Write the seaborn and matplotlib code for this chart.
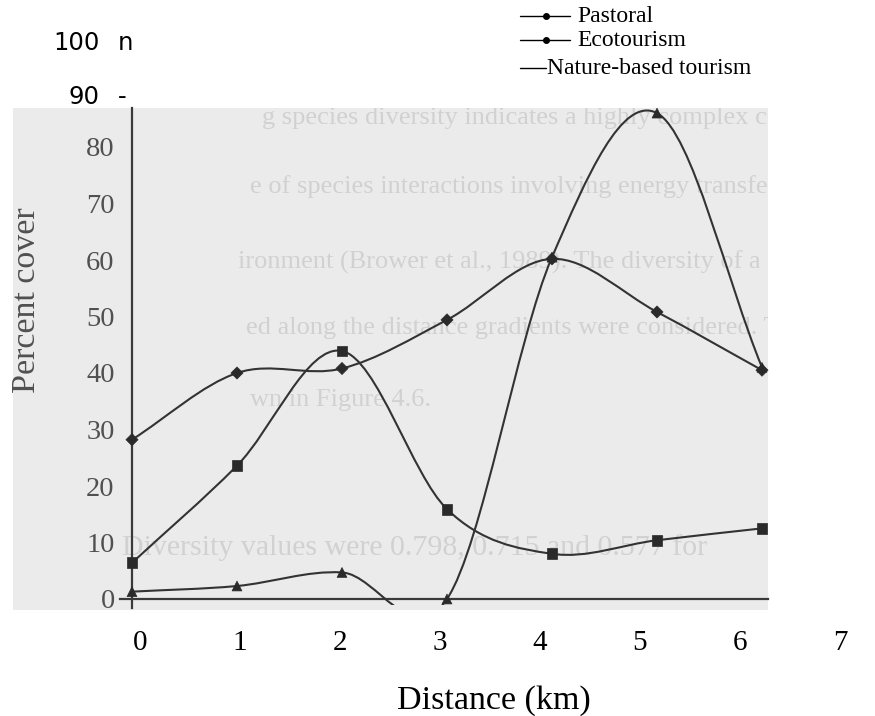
import numpy as np
import pandas as pd
import seaborn as sns
import matplotlib
matplotlib.use("Agg")
import matplotlib.pyplot as plt
from matplotlib.path import Path
from matplotlib.patches import PathPatch, Rectangle
from matplotlib.lines import Line2D

# ---------------- data ----------------
distance = [0, 1, 2, 3, 4, 5, 6]
pastoral = [28.2, 40.0, 40.8, 49.4, 60.2, 50.8, 40.5]
ecotourism = [6.4, 23.6, 43.9, 15.9, 8.0, 10.4, 12.5]
nature_based = [1.3, 2.3, 4.7, 0.0, 60.5, 86.0, 41.0]
series_names = ["Pastoral", "Ecotourism", "Nature-based tourism"]
y_ticks = [0, 10, 20, 30, 40, 50, 60, 70, 80]
x_ticks = [0, 1, 2, 3, 4, 5, 6, 7]

df = pd.DataFrame({
    "distance": distance * 3,
    "cover": pastoral + ecotourism + nature_based,
    "series": [s for s in series_names for _ in distance],
})

sns.set_style("white")
plt.rcParams["font.family"] = ["Liberation Serif", "DejaVu Serif"]

W, H = 875, 716
fig = plt.figure(figsize=(W / 100, H / 100), dpi=100)
fig.patch.set_facecolor("white")

def fx(px):
    return px / W

def fy(py):
    return 1 - py / H

# geometry (pixels)
X0PX, XUNIT = 132.0, 105.0
Y0PX, YUNIT = 599.0, 5.65
GL, GR, GT, GB = 13, 768, 108, 610
AXB = 605  # clipping edge of the plotting area

ax = fig.add_axes([fx(GL), fy(AXB), fx(W - GL), (AXB - GT) / H])
ax.patch.set_alpha(0)
ax.set_xlim((GL - X0PX) / XUNIT, (W - X0PX) / XUNIT)
ax.set_ylim((Y0PX - AXB) / YUNIT, (Y0PX - GT) / YUNIT)

# scanned grey page background
bg = Rectangle((fx(GL), fy(GB)), (GR - GL) / W, (GB - GT) / H,
               transform=fig.transFigure, facecolor="#ebebeb",
               edgecolor="none", zorder=-5)
fig.add_artist(bg)

# faint bleed-through text of the scanned page
ghost = [
    (262, 118, "g species diversity indicates a highly complex c", 19),
    (250, 187, "e of species interactions involving energy transfe", 19),
    (238, 262, "ironment (Brower et al., 1989). The diversity of a", 19),
    (246, 328, "ed along the distance gradients were considered. Th", 19),
    (250, 400, "wn in Figure 4.6.", 19),
    (122, 548, "Diversity values were 0.798, 0.715 and 0.577 for", 21.5),
]
for gx, gy, gt, gs in ghost:
    t = fig.text(fx(gx), fy(gy), gt, fontsize=gs, color="#d1d1d1",
                 ha="left", va="center", zorder=-4)
    t.set_clip_path(bg)

line_color = "#333333"

def smooth_path(xs, ys):
    xs = np.asarray(xs, float)
    ys = np.asarray(ys, float)
    n = len(xs)
    verts = [(xs[0], ys[0])]
    codes = [Path.MOVETO]
    for i in range(n - 1):
        a = i - 1 if i > 0 else i
        b = i + 2 if i + 2 < n else i + 1
        m1 = (ys[i + 1] - ys[a]) / (xs[i + 1] - xs[a])
        m2 = (ys[b] - ys[i]) / (xs[b] - xs[i])
        h = xs[i + 1] - xs[i]
        verts += [(xs[i] + h / 3, ys[i] + m1 * h / 3),
                  (xs[i + 1] - h / 3, ys[i + 1] - m2 * h / 3),
                  (xs[i + 1], ys[i + 1])]
        codes += [Path.CURVE4] * 3
    return Path(verts, codes)

for name in series_names:
    sub = df[df["series"] == name]
    patch = PathPatch(smooth_path(sub["distance"], sub["cover"]),
                      facecolor="none", edgecolor=line_color, lw=1.5,
                      transform=ax.transData, zorder=3)
    ax.add_patch(patch)

sns.scatterplot(data=df, x="distance", y="cover", style="series",
                markers={"Pastoral": "D", "Ecotourism": "s",
                         "Nature-based tourism": "^"},
                size="series",
                sizes={"Pastoral": 38, "Ecotourism": 60,
                       "Nature-based tourism": 50},
                color="#2a2a2a", edgecolor="#2a2a2a", linewidth=0.5,
                legend=False, ax=ax, zorder=4, clip_on=True)

# axes styling
for s in ["top", "right"]:
    ax.spines[s].set_visible(False)
ax.spines["left"].set_position(("data", 0))
ax.spines["bottom"].set_position(("data", 0))
ax.spines["bottom"].set_bounds((120 - X0PX) / XUNIT, (GR - X0PX) / XUNIT)
ax.spines["left"].set_bounds((Y0PX - 608) / YUNIT, (Y0PX - GT) / YUNIT)
for s in ["left", "bottom"]:
    ax.spines[s].set_color("#3a3a3a")
    ax.spines[s].set_linewidth(1.6)
    ax.spines[s].set_zorder(2)

ax.set_yticks(y_ticks)
ax.set_yticklabels([str(v) for v in y_ticks])
ax.set_xticks(x_ticks)
ax.set_xticklabels([])
ax.tick_params(axis="y", direction="out", length=7.5, width=1.4,
               color="#3a3a3a", pad=5, labelsize=20.5, labelcolor="#505050")
ax.tick_params(axis="x", direction="out", length=6.5, width=1.4,
               color="#3a3a3a")
ax.xaxis.get_major_ticks()[-1].tick1line.set_visible(False)
ax.set_xlabel("")
ax.set_ylabel("")

# retypeset distance labels below the scan (own spacing)
ax2 = fig.add_axes(ax.get_position())
ax2.patch.set_alpha(0)
for s in ax2.spines.values():
    s.set_visible(False)
ax2.set_xlim((GL - 140) / 100, (W - 140) / 100)
ax2.set_xticks(x_ticks)
ax2.set_xticklabels([str(v) for v in x_ticks])
ax2.set_yticks([])
ax2.tick_params(axis="x", length=0, pad=18, labelsize=21,
                labelcolor="black")

# axis titles
fig.text(fx(27), fy(300), "Percent cover", rotation=90, ha="center",
         va="center", fontsize=24.5, color="#505050")
fig.text(fx(494), fy(701), "Distance (km)", ha="center", va="center",
         fontsize=24.5, color="black")

# upper labels outside the scanned area (sans serif)
for lbl, mark, ypx in [("100", "n", 43), ("90", "-", 97)]:
    fig.text(fx(100), fy(ypx), lbl, ha="right", va="center", fontsize=17.5,
             family="DejaVu Sans", color="black")
    fig.text(fx(118), fy(ypx), mark, ha="left", va="center", fontsize=17.5,
             family="DejaVu Sans", color="black")

# legend
leg = [("Pastoral", 16, True), ("Ecotourism", 40, True),
       ("Nature-based tourism", 68, False)]
for name, ypx, dot in leg:
    if dot:
        fig.add_artist(Line2D([fx(520), fx(570)], [fy(ypx), fy(ypx)],
                              transform=fig.transFigure, color="black",
                              lw=1.0))
        fig.add_artist(Line2D([fx(546)], [fy(ypx)], marker="o",
                              markersize=4, color="black",
                              transform=fig.transFigure))
        fig.text(fx(577), fy(ypx), name, ha="left", va="center",
                 fontsize=17, color="black")
    else:
        fig.add_artist(Line2D([fx(520), fx(546)], [fy(ypx), fy(ypx)],
                              transform=fig.transFigure, color="black",
                              lw=1.0))
        fig.text(fx(547), fy(ypx), name, ha="left", va="center",
                 fontsize=17, color="black")

fig.savefig("out.png", dpi=100)
